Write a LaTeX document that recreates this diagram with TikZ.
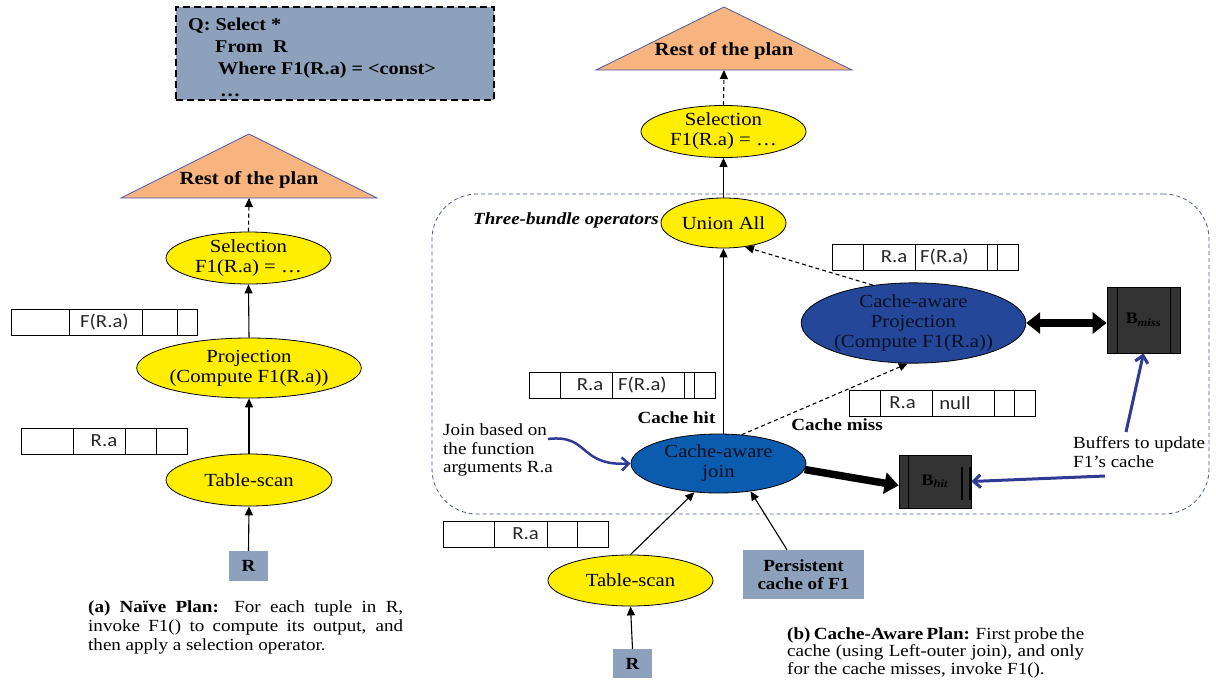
\documentclass[tikz,border=0pt]{standalone}
\usepackage{fontspec}
\setmainfont{Liberation Serif}[FakeStretch=1.12]
\newfontfamily\tupfont{Carlito}[FakeStretch=1.12]
\usetikzlibrary{shapes.geometric,arrows.meta,calc}
\definecolor{opyellow}{HTML}{FFEE00}
\definecolor{qfill}{HTML}{8EA1BC}
\definecolor{restfill}{HTML}{F8B47E}
\definecolor{restline}{HTML}{4A5AA8}
\definecolor{joinblue}{HTML}{0B5BAE}
\definecolor{projblue}{HTML}{24479A}
\definecolor{bluetext}{HTML}{0A1020}
\definecolor{bdark}{HTML}{333333}
\definecolor{bundleblue}{HTML}{4B55A0}
\definecolor{arrowblue}{HTML}{2E3A93}
\newcommand{\fs}[2]{\fontsize{#1}{#2}\selectfont}
\newcommand{\tupbox}[5]{%
  \draw[tup] (#1,#2) rectangle (#3,#4);
  \foreach \d in {#5} {\draw[tup] (\d,#2) -- (\d,#4);}
}
\begin{document}
\begin{tikzpicture}[x=1pt,y=-1pt,
  op/.style={ellipse, draw=black, line width=0.8pt, fill=opyellow, inner sep=0pt, align=center, font=\fs{18.5}{20}},
  bop/.style={op, fill=joinblue, text=bluetext},
  greybox/.style={rectangle, draw=none, fill=qfill, inner sep=0pt, align=center, font=\bfseries\fs{17}{18}},
  arr/.style={-{Triangle[length=9pt,width=8pt]}, line width=1.1pt},
  darr/.style={arr, dash pattern=on 4pt off 3pt},
  tup/.style={draw=black, line width=0.9pt},
  tuptext/.style={font=\tupfont\fs{18.5}{19}, inner sep=0pt, text=black!85},
  bbox/.style={rectangle, draw=black, line width=0.8pt, fill=bdark, inner sep=0pt, font=\fs{16}{18}},
  fat/.style={line width=7.5pt, -{Triangle[length=14pt,width=21pt]}},
  barr/.style={draw=arrowblue, line width=3pt, -{Straight Barb[length=7pt,width=13pt]}},
  lbl/.style={inner sep=0pt, font=\bfseries\fs{17}{19}},
  txt/.style={inner sep=0pt, align=left, font=\fs{17}{19}}
]
\useasboundingbox (0,0) rectangle (1216,696);

% ---------------- query box ----------------
\node[greybox, draw=black, line width=1.5pt, dash pattern=on 7pt off 4pt, minimum width=318pt, minimum height=93pt] (query) at (335,53.5) {};
\node[anchor=north west, inner sep=0pt, align=left, font=\bfseries\fs{18}{22}] (qtext) at (188,17.5)
  {Q: Select *\\\hspace*{27pt}From\ \ R\\\hspace*{30pt}Where F1(R.a) = <const>\\\hspace*{32pt}…};

% ---------------- left plan ----------------
\draw[restline, fill=restfill, line width=0.8pt] (121,198) -- (249,134) -- (377,198) -- cycle;
\node[inner sep=0pt, font=\bfseries\fs{18.5}{20}] (lrest) at (249,180) {Rest of the plan};
\coordinate (lrestb) at (249,198);
\node[op, minimum width=165pt, minimum height=52pt] (lsel) at (248.5,258) {Selection\\F1(R.a) = …};
\node[op, minimum width=166pt, minimum height=60pt] (lproj) at (249,368) {Projection\\(Compute F1(R.a))};
\node[op, minimum width=166pt, minimum height=52pt] (ltab) at (249,480) {Table-scan};
\node[greybox, minimum width=39pt, minimum height=30pt] (lR) at (248.5,566) {R};
\draw[darr] (lsel.north) -- (lrestb);
\draw[arr] (lproj.north) -- (lsel.south);
\draw[arr] (ltab.north) -- (lproj.south);
\draw[arr] (lR.north) -- (ltab.south);

\tupbox{11}{309}{197}{335}{69,142,177}
\node[tuptext] (lt1) at (104.5,322) {F(R.a)};
\tupbox{21}{428}{187}{454}{73,125,156}
\node[tuptext] (lt2) at (104,441) {R.a};

\node[anchor=north west, txt] (capa) at (88,600)
  {\makebox[315pt][s]{\textbf{(a) Naïve Plan:} For each tuple in R,}\\
   \makebox[315pt][s]{invoke F1() to compute its output, and}\\
   then apply a selection operator.};

% ---------------- right plan ----------------
\node[rectangle, rounded corners=45pt, draw=bundleblue, line width=0.8pt, dash pattern=on 4pt off 3pt, minimum width=777pt, minimum height=320pt] (bundle) at (820.5,354) {};
\node[anchor=west, inner sep=0pt, font=\bfseries\itshape\fs{17}{19}] (tbo) at (473,220) {Three-bundle operators};

\draw[restline, fill=restfill, line width=0.8pt] (596,70) -- (724,7) -- (852,70) -- cycle;
\node[inner sep=0pt, font=\bfseries\fs{18.5}{20}] (rrest) at (724,51) {Rest of the plan};
\coordinate (rrestb) at (724,70);
\node[op, minimum width=165pt, minimum height=47pt] (rsel) at (723.5,131.5) {Selection\\F1(R.a) = …};
\node[op, minimum width=125pt, minimum height=50pt] (union) at (723.5,223) {Union All};
\node[bop, fill=projblue, minimum width=207pt, minimum height=80pt] (proj) at (913.5,323) {Cache-aware\\Projection\\(Compute F1(R.a))};
\node[bop, minimum width=175pt, minimum height=59pt] (join) at (718.5,463.5) {Cache-aware\\join};
\node[op, minimum width=165pt, minimum height=51pt] (rtab) at (630.5,580.5) {Table-scan};
\node[greybox, minimum width=39pt, minimum height=29pt] (rR) at (632.5,663.5) {R};
\node[greybox, minimum width=121pt, minimum height=49pt] (pers) at (803.5,574.5) {Persistent\\cache of F1};

\node[bbox, minimum width=73pt, minimum height=66pt] (bmiss) at (1143.5,320) {\textbf{B}\textsubscript{\textbf{\textit{miss}}}};
\draw[line width=0.8pt] (1117,287) -- (1117,353) (1170,287) -- (1170,353);
\node[bbox, minimum width=72pt, minimum height=53pt] (bhit) at (935,481.5) {\textbf{B}\textsubscript{\textbf{\textit{hit}}}};
\draw[line width=0.8pt] (908,455) -- (908,508);
\draw[line width=2.5pt] (962,467) -- (962,500) (970,467) -- (970,500);

% tuples
\tupbox{832}{244}{1018}{270}{863,915,987,997}
\node[tuptext] (rt1a) at (894,257) {R.a};
\node[tuptext] (rt1b) at (944.5,257) {F(R.a)};
\tupbox{529}{372}{715}{398}{560,612,684,694}
\node[tuptext] (rt2a) at (590,385) {R.a};
\node[tuptext] (rt2b) at (642.5,385) {F(R.a)};
\tupbox{849}{390}{1035}{416}{880,932,994,1014}
\node[tuptext] (rt3a) at (902.5,403) {R.a};
\node[tuptext] (rt3b) at (955,403) {null};
\tupbox{443}{521}{608}{547}{494,547,577}
\node[tuptext] (rt4a) at (525.5,534) {R.a};

% labels
\node[lbl] (hit) at (676.5,418) {Cache hit};
\node[lbl] (miss) at (837,425) {Cache miss};
\node[anchor=north west, txt] (joinlbl) at (443,423) {Join based on\\the function\\arguments R.a};
\node[anchor=north west, txt] (buflbl) at (1073,436) {Buffers to update\\F1’s cache};

% connectors
\draw[darr] (rsel.north) -- (rrestb);
\draw[arr] (union.north) -- (rsel.south);
\draw[arr] (join.north -| union.south) -- (union.south);
\draw[darr] (proj.137.6) -- (union.-48);
\draw[darr] (join.51) -- (proj.262);
\draw[arr] (rtab.north) -- (join.-130);
\draw[arr] ([xshift=-16.5pt]pers.north) -- (join.-41);
\draw[arr] (rR.north) -- (rtab.south);
\draw[line width=7.5pt, {Triangle[length=14pt,width=21pt]}-{Triangle[length=14pt,width=21pt]}] (proj.east) -- (proj.east -| bmiss.west);
\draw[fat] (join.-4) -- ([yshift=-4pt]bhit.west);

\coordinate (bufup) at (1126,432);
\coordinate (bufleft) at (1105,476);
\coordinate (jbstart) at (548,439);
\draw[barr] (bufup) -- (bmiss.south);
\draw[barr] (bufleft) -- (bhit.east);
\draw[barr, line width=2.5pt] (jbstart) .. controls (590,434) and (578,466) .. (join.west);

\node[anchor=north west, txt, font=\fs{17}{17.5}] (capb) at (787,627)
  {\makebox[297pt][s]{\textbf{(b) Cache-Aware Plan:} First probe the}\\
   \makebox[297pt][s]{cache (using Left-outer join), and only}\\
   for the cache misses, invoke F1().};
\end{tikzpicture}
\end{document}
